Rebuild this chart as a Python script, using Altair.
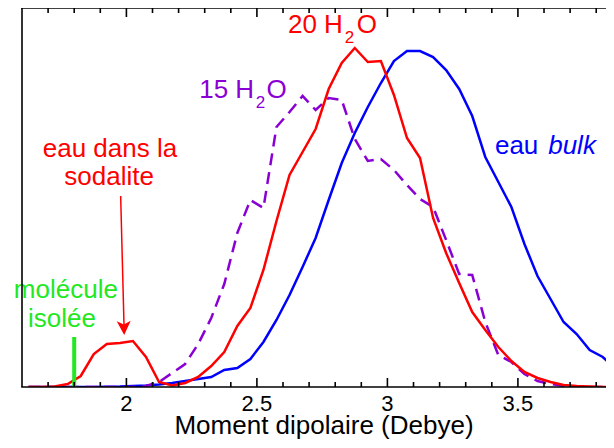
import altair as alt
import pandas as pd

# ---- data (arbitrary units, 0 = baseline) ----
dipole = [1.625, 1.675, 1.725, 1.775, 1.825, 1.875, 1.925, 1.975, 2.025, 2.075,
          2.125, 2.175, 2.225, 2.275, 2.325, 2.375, 2.425, 2.475, 2.525, 2.575,
          2.625, 2.675, 2.725, 2.775, 2.825, 2.875, 2.925, 2.975, 3.025, 3.075,
          3.125, 3.175, 3.225, 3.275, 3.325, 3.375, 3.425, 3.475, 3.525, 3.575,
          3.625, 3.675, 3.725, 3.775, 3.825, 3.875]

h2o_20 = [0, 0, 0.5, 3, 11, 33, 43, 44, 46, 30,
          5, 1.5, 4, 10, 21, 35, 61, 79, 117, 166,
          212, 235, 258, 298, 324, 339, 325, 326, 292, 249,
          229, 169, 134, 104, 75, 57, 40, 26, 15, 9,
          5, 2, 1, 0.5, 0, 0]

h2o_15 = [0, 0, 0, 0, 0, 0, 0, 0, 0, 1,
          5, 14, 23, 43, 69, 103, 154, 187, 179, 260,
          275, 291, 277, 289, 287, 248, 226, 228, 217, 202,
          188, 180, 147, 113, 112, 65, 32, 25, 13, 6,
          3, 1, 0.5, 0, 0, 0]

bulk = [0, 0, 0, 0, 0, 0, 0.3, 0.5, 1, 1.5,
        2.5, 4, 6, 8, 10, 17, 19, 28, 45, 67,
        92, 120, 149, 187, 224, 254, 280, 304, 326, 336,
        336, 330, 317, 298, 271, 230, 205, 180, 143, 111,
        88, 65, 53, 37, 30, 18]

isolated_x = [1.8]
isolated_y = [50]

tick_values = [2, 2.5, 3, 3.5]
tick_text = ["2", "2.5", "3", "3.5"]
minor_ticks = [1.7, 1.8, 1.9, 2.1, 2.2, 2.3, 2.4, 2.6, 2.7, 2.8, 2.9,
               3.1, 3.2, 3.3, 3.4, 3.6, 3.7, 3.8]
x_title = "Moment dipolaire (Debye)"

# ---- layout ----
W, H = 584, 379
XMIN, XMAX, YMAX = 1.6, 3.8375, 379
PX = (XMAX - XMIN) / W          # one pixel in x units
LW = 1.6                        # frame / tick line width in pixels
FONT = "Liberation Sans"
RED, BLUE, PURPLE, GREEN = "#ff0000", "#0000ff", "#8a00d4", "#22e822"

xs = alt.Scale(domain=[XMIN, XMAX], nice=False, zero=False)
ys = alt.Scale(domain=[0, YMAX], nice=False, zero=True)


def X(field):
    return alt.X(field, scale=xs, axis=None)


def Y(field):
    return alt.Y(field, scale=ys, axis=None)


# ---- frame (left, top, bottom) and inward ticks, drawn as thin filled rects ----
hw = LW * PX / 2
rects = [
    (XMIN - hw, XMIN + hw, 0, YMAX),                 # left border
    (XMIN - hw, XMAX, YMAX - LW / 2, YMAX + LW / 2),  # top border
    (XMIN - hw, XMAX, -LW / 2, LW / 2),               # bottom axis line
]
for v in tick_values:
    rects += [(v - hw, v + hw, 0, 9), (v - hw, v + hw, YMAX - 9, YMAX)]
for v in minor_ticks:
    rects += [(v - hw, v + hw, 0, 5), (v - hw, v + hw, YMAX - 5, YMAX)]
rect_df = pd.DataFrame(rects, columns=["x", "x2", "y", "y2"])
frame_layer = alt.Chart(rect_df).mark_rect(color="#000000", opacity=1, strokeWidth=0).encode(
    x=X("x:Q"), x2="x2:Q", y=Y("y:Q"), y2="y2:Q")

tmaj = pd.DataFrame({"t": tick_values, "lab": tick_text})
tick_label_layer = alt.Chart(tmaj).mark_text(
    font=FONT, fontSize=22, color="black", align="center", baseline="alphabetic").encode(
    x=X("t:Q"), y=alt.value(H + 24), text="lab:N")

axis_title = alt.Chart(pd.DataFrame({"t": [x_title]})).mark_text(
    font=FONT, fontSize=26, color="black", align="center", baseline="alphabetic").encode(
    x=alt.value(302), y=alt.value(H + 47), text="t:N")

# ---- curves ----
df = pd.DataFrame({"x": dipole, "r20": h2o_20, "p15": h2o_15, "bulk": bulk})
base = alt.Chart(df)

blue_line = base.mark_line(color=BLUE, strokeWidth=2.5, clip=True).encode(
    x=X("x:Q"), y=Y("bulk:Q"))
purple_line = base.mark_line(color=PURPLE, strokeWidth=2.5, strokeDash=[12, 7], clip=True).encode(
    x=X("x:Q"), y=Y("p15:Q"))
red_line = base.mark_line(color=RED, strokeWidth=2.5, clip=True).encode(
    x=X("x:Q"), y=Y("r20:Q"))

iso = alt.Chart(pd.DataFrame({"x": isolated_x, "y": isolated_y, "y0": [0]})).mark_rule(
    color=GREEN, strokeWidth=4).encode(x=X("x:Q"), y=Y("y0:Q"), y2="y:Q")

# ---- arrow "eau dans la sodalite" ----
arrow_line = alt.Chart(pd.DataFrame({"x": [1.978], "y": [191], "x2": [1.991], "y2": [60]})).mark_rule(
    color=RED, strokeWidth=1.5).encode(x=X("x:Q"), y=Y("y:Q"), x2="x2:Q", y2="y2:Q")
arrow_head = alt.Chart(pd.DataFrame({"x": [1.9916], "y": [52]})).mark_point(
    shape="M0,0L-1,-2L0,-1.5L1,-2Z", size=196, filled=True, color=RED, opacity=1,
    strokeWidth=0, angle=358).encode(x=X("x:Q"), y=Y("y:Q"))


def label(x, y, text, color, size=26, align="left", style="normal"):
    return alt.Chart(pd.DataFrame({"x": [x], "y": [y], "t": [text]})).mark_text(
        font=FONT, fontSize=size, color=color, align=align, baseline="alphabetic",
        fontStyle=style).encode(x=X("x:Q"), y=Y("y:Q"), text="t:N")


texts = [
    label(2.619, 353.7, "20 H", RED),
    label(2.837, 343.7, "2", RED, size=17),
    label(2.883, 353.7, "O", RED),
    label(2.279, 288.7, "15 H", PURPLE),
    label(2.496, 278.7, "2", PURPLE, size=17),
    label(2.537, 288.7, "O", PURPLE),
    label(1.937, 230.5, "eau dans la", RED, align="center"),
    label(1.934, 202.0, "sodalite", RED, align="center"),
    label(3.412, 233, "eau", BLUE),
    label(3.616, 233, "bulk", BLUE, style="italic"),
    label(1.768, 89, "molécule", GREEN, align="center"),
    label(1.753, 60.5, "isolée", GREEN, align="center"),
]

chart = alt.layer(
    blue_line, purple_line, red_line, iso,
    arrow_line, arrow_head, *texts,
    frame_layer, tick_label_layer, axis_title,
).properties(
    width=W, height=H,
    padding={"left": 14, "top": 0, "right": 0, "bottom": 52},
    autosize=alt.AutoSizeParams(type="none"),
    background="white",
).configure(font=FONT).configure_view(stroke=None)

chart.save("out.html", embed_options={"renderer": "svg", "actions": False})
